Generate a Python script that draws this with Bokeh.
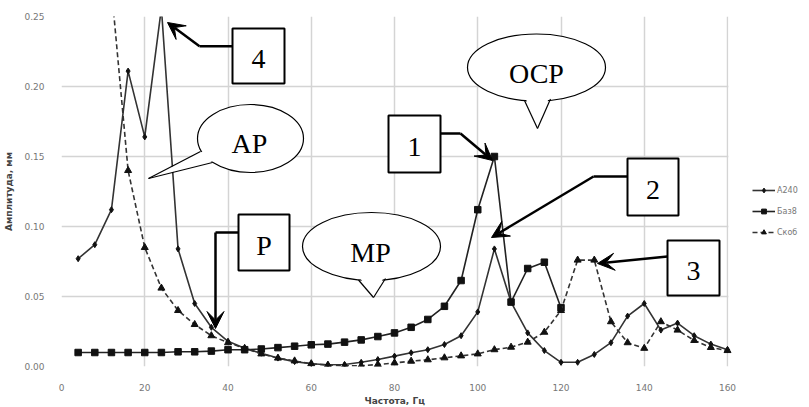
from bokeh.plotting import figure
from bokeh.models import (Legend, LegendItem, FixedTicker, Arrow, VeeHead, Range1d,
                          NumeralTickFormatter, Title)
from bokeh.core.properties import value
from bokeh.embed import file_html
from bokeh.resources import INLINE

# ---------------- data ----------------
freq_a240 = [4, 8, 12, 16, 20, 24, 28, 32, 36, 40,
             44, 48, 52, 56, 60, 64, 68, 72, 76, 80,
             84, 88, 92, 96, 100, 104, 108, 112, 116, 120,
             124, 128, 132, 136, 140, 144, 148, 152, 156, 160]
amp_a240 = [0.077, 0.087, 0.112, 0.211, 0.164, 0.256, 0.084, 0.045, 0.028, 0.018,
            0.013, 0.0095, 0.006, 0.0035, 0.002, 0.0012, 0.0014, 0.003, 0.005, 0.0074,
            0.0098, 0.012, 0.0157, 0.022, 0.039, 0.084, 0.046, 0.024, 0.0114, 0.003,
            0.003, 0.0086, 0.017, 0.036, 0.045, 0.026, 0.031, 0.022, 0.016, 0.012]

freq_baz8 = [4, 8, 12, 16, 20, 24, 28, 32, 36, 40,
             44, 48, 52, 56, 60, 64, 68, 72, 76, 80,
             84, 88, 92, 96, 100, 104, 108, 112, 116, 120]
amp_baz8 = [0.010, 0.010, 0.010, 0.010, 0.010, 0.010, 0.0105, 0.0105, 0.011, 0.012,
            0.012, 0.0125, 0.0135, 0.0145, 0.0155, 0.016, 0.0174, 0.019, 0.0214, 0.024,
            0.028, 0.0336, 0.043, 0.0614, 0.112, 0.150, 0.046, 0.070, 0.0745, 0.042]

freq_skob = [12, 16, 20, 24, 28, 32, 36, 40,
             44, 48, 52, 56, 60, 64, 68, 72, 76, 80,
             84, 88, 92, 96, 100, 104, 108, 112, 116, 120,
             124, 128, 132, 136, 140, 144, 148, 152, 156, 160]
amp_skob = [0.27, 0.14, 0.085, 0.056, 0.040, 0.030, 0.022, 0.017,
            0.013, 0.009, 0.006, 0.004, 0.002, 0.001, 0.0005, 0.0005, 0.0014, 0.0026,
            0.0038, 0.0048, 0.0062, 0.0076, 0.009, 0.012, 0.0138, 0.0174, 0.0245, 0.040,
            0.076, 0.076, 0.032, 0.017, 0.013, 0.032, 0.026, 0.0186, 0.0136, 0.0114]

series_names = ["А240", "Баз8", "Скоб"]
x_ticks = [0, 20, 40, 60, 80, 100, 120, 140, 160]
y_ticks = [0.00, 0.05, 0.10, 0.15, 0.20, 0.25]
x_title = "Частота, Гц"
y_title = "Амплитуда, мм"
X_MAX, Y_MAX = 160, 0.25

# ---------------- figure ----------------
W, H = 809, 407
FL, FR, FT, FB = 61, 727, 16, 366   # data area in pixels (0..160 x, 0..0.25 y)
PX_PER_X = (FR - FL) / X_MAX
x_end = X_MAX + (W - FR) / PX_PER_X   # frame continues to the right edge (for legend)

p = figure(width=W, height=H, x_range=Range1d(0, x_end), y_range=Range1d(0, Y_MAX),
           toolbar_location=None, output_backend="svg",
           min_border_left=FL, min_border_right=0,
           min_border_top=FT, min_border_bottom=H - FB)
p.outline_line_color = None
p.background_fill_color = "white"
p.border_fill_color = "white"

p.xaxis.ticker = FixedTicker(ticks=x_ticks)
p.yaxis.ticker = FixedTicker(ticks=y_ticks)
p.yaxis.formatter = NumeralTickFormatter(format="0.00")
for ax in (p.xaxis, p.yaxis):
    ax.axis_line_color = None
    ax.major_tick_line_color = None
    ax.minor_tick_line_color = None
    ax.major_label_text_font = "DejaVu Sans"
    ax.major_label_text_font_size = "9px"
    ax.major_label_text_color = "#777777"
    ax.axis_label_text_font = "DejaVu Sans"
    ax.axis_label_text_font_size = "9px"
    ax.axis_label_text_font_style = "bold"
    ax.axis_label_text_color = "#444444"
p.yaxis.axis_label = y_title
p.xaxis.major_label_standoff = 11
p.yaxis.major_label_standoff = 11
p.yaxis.axis_label_standoff = 7

p.add_layout(Title(text=x_title, align="left", offset=364 - FL, standoff=0,
                   text_font="DejaVu Sans", text_font_size="9px", text_font_style="bold",
                   text_color="#444444"), "below")

p.grid.grid_line_color = "#d4d4d4"
p.grid.grid_line_width = 1.5

# white cover to end the horizontal grid at 160 Hz (area right of the data)
p.quad(left=[X_MAX + 0.9 / PX_PER_X], right=[x_end], bottom=[0], top=[Y_MAX],
       fill_color="white", line_color=None)

# ---------------- series ----------------
lc = "#333333"
l1 = p.line(freq_a240, amp_a240, line_color=lc, line_width=1.6)
s1 = p.scatter(freq_a240, amp_a240, marker="diamond", size=6, color="#111111")
l2 = p.line(freq_baz8, amp_baz8, line_color="#222222", line_width=1.6)
s2 = p.scatter(freq_baz8, amp_baz8, marker="square", size=6.5, color="#111111")
l3 = p.line(freq_skob, amp_skob, line_color=lc, line_width=1.6, line_dash="5 3")
s3 = p.scatter(freq_skob, amp_skob, marker="triangle", size=7, color="#111111")

legend = Legend(items=[LegendItem(label=series_names[0], renderers=[l1, s1]),
                       LegendItem(label=series_names[1], renderers=[l2, s2]),
                       LegendItem(label=series_names[2], renderers=[l3, s3])],
                location=(752 - FL, FB - 238), background_fill_alpha=0, border_line_color=None,
                label_text_font="DejaVu Sans",
                label_text_font_size="8px", label_text_color="#777777",
                glyph_width=23, glyph_height=12, label_height=12, spacing=9,
                padding=0, margin=0, label_standoff=2)
p.add_layout(legend)

# ---------------- annotations (pixel helpers) ----------------
def X(px):
    return (px - FL) / PX_PER_X

def Y(py):
    return (FB - py) * Y_MAX / (FB - FT)

SERIF = value("Liberation Serif")

def callout(cx, cy, a, b, b1, b2, tip, label, tx, ty):
    p.ellipse(x=[X(cx)], y=[Y(cy)], width=[2 * a], height=[2 * b],
              width_units="screen", height_units="screen",
              fill_color="white", line_color="black", line_width=1.2)
    i1 = (b1[0] + (cx - b1[0]) * 0.08, b1[1] + (cy - b1[1]) * 0.08)
    i2 = (b2[0] + (cx - b2[0]) * 0.08, b2[1] + (cy - b2[1]) * 0.08)
    p.patch([X(i1[0]), X(tip[0]), X(i2[0])], [Y(i1[1]), Y(tip[1]), Y(i2[1])],
            fill_color="white", line_color=None)
    p.line([X(b1[0]), X(tip[0])], [Y(b1[1]), Y(tip[1])], line_color="black", line_width=1.2)
    p.line([X(b2[0]), X(tip[0])], [Y(b2[1]), Y(tip[1])], line_color="black", line_width=1.2)
    p.text(x=[X(tx)], y=[Y(ty)], text=[label], text_font=SERIF, text_font_size="28px",
           text_align="center", text_baseline="middle", text_color="black")

callout(250, 138, 53, 34, (200, 151), (212, 162), (148, 178), "АР", 249, 143)
callout(371, 246, 69, 34, (358, 279.5), (385, 278), (373, 297), "МР", 370, 252)
callout(536, 67, 69, 33.5, (524, 100), (550, 98.5), (537, 128), "ОСР", 536, 73)

def box(cx, cy, w, h, label):
    p.rect(x=[X(cx)], y=[Y(cy)], width=[w], height=[h],
           width_units="screen", height_units="screen",
           fill_color="white", line_color="black", line_width=2)
    p.text(x=[X(cx)], y=[Y(cy + 3)], text=[label], text_font=SERIF, text_font_size="28px",
           text_align="center", text_baseline="middle", text_color="black")

def leader(points):
    xs = [X(q[0]) for q in points]
    ys = [Y(q[1]) for q in points]
    if len(points) > 2:
        p.line(xs[:-1], ys[:-1], line_color="black", line_width=2.5)
    p.add_layout(Arrow(end=VeeHead(size=17, fill_color="black", line_color="black"),
                       x_start=xs[-2], y_start=ys[-2], x_end=xs[-1], y_end=ys[-1],
                       line_color="black", line_width=2.5))

leader([(232, 45.7), (199, 45.7), (167, 22)])
leader([(238, 232), (215, 232), (215, 328)])
leader([(440, 133), (460, 133), (492, 160)])
leader([(627, 176), (593, 176), (491, 237)])
leader([(667, 256), (597, 263)])

box(258, 55.5, 52, 55, "4")
box(263.5, 242, 51, 56, "Р")
box(414, 143.5, 52, 57, "1")
box(652.5, 186.5, 51, 57, "2")
box(693, 267.5, 52, 55, "3")

open("out.html", "w").write(file_html(p, INLINE))
